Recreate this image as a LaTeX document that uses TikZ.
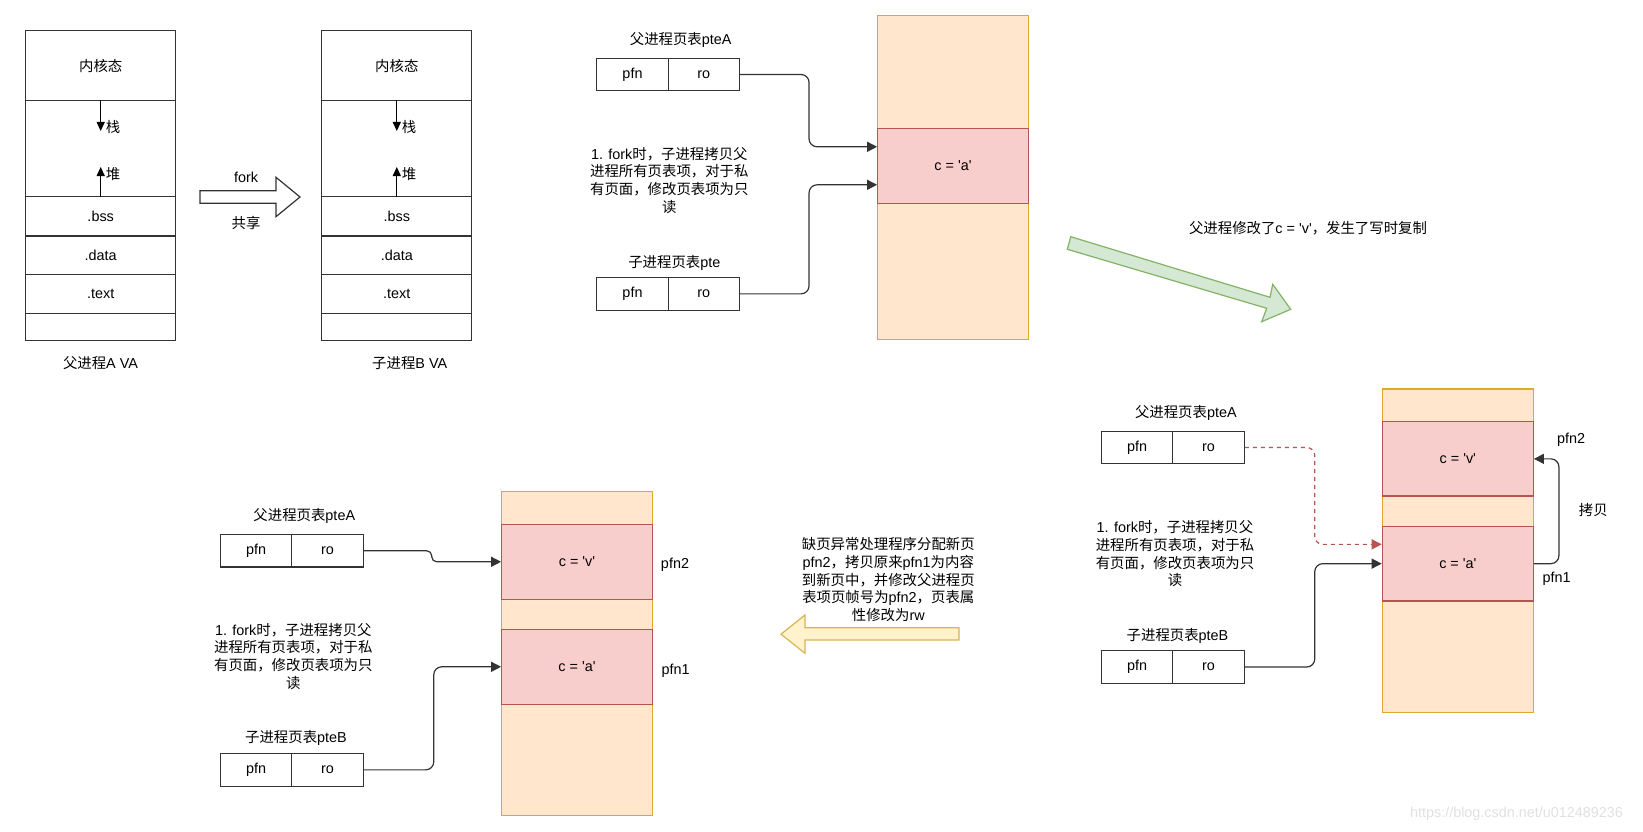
\documentclass[tikz,border=0pt]{standalone}
\usepackage{fontspec}
\setmainfont{Liberation Sans}[Ligatures=TeXOff]
\newfontfamily\cjk{Noto Sans CJK SC}
\newcommand\zhs[1]{{\cjk #1}}
\usetikzlibrary{arrows.meta,calc}
\definecolor{memfill}{HTML}{FFE6CC}
\definecolor{memline}{HTML}{E0A82E}
\definecolor{redfill}{HTML}{F8CECC}
\definecolor{redline}{HTML}{B85450}
\definecolor{grfill}{HTML}{D5E8D4}
\definecolor{grline}{HTML}{82B366}
\definecolor{yfill}{HTML}{FFF2CC}
\definecolor{yline}{HTML}{D6B656}
\definecolor{ink}{HTML}{333333}
\tikzset{
  cell/.style={draw=ink, line width=1.2pt, inner sep=0pt, minimum width=150pt},
  ptecell/.style={draw=ink, line width=1.2pt, inner sep=0pt, minimum height=32.5pt, minimum width=71.3pt},
  mem/.style={fill=memfill, draw=memline, line width=1.2pt, inner sep=0pt, minimum width=150.6pt, minimum height=324pt},
  redc/.style={fill=redfill, draw=redline, line width=1.2pt, inner sep=0pt, minimum width=150.6pt, minimum height=75pt},
  lbl/.style={inner sep=0pt, align=center},
  conn/.style={draw=ink, line width=1.2pt, rounded corners=8pt, -{Triangle[length=10pt,width=10pt]}},
  sarrow/.style={draw=black, line width=1.2pt, -{Triangle[length=9pt,width=8pt]}},
  dconn/.style={draw=redline, line width=1.2pt, rounded corners=8pt, dash pattern=on 4pt off 4pt, -{Triangle[length=10pt,width=10pt]}},
}
\begin{document}
\begin{tikzpicture}[x=1pt, y=-1pt, font=\fontsize{14.4}{17.6}\selectfont]
\useasboundingbox (0,0) rectangle (1643,832);

% ---------- Parent VA ----------
\node[cell, minimum height=70pt] (ak) at (100.7,65.7) {\zhs{内核态}};
\node[cell, minimum height=96pt] (as) at (100.7,148.7) {};
\node[cell, minimum height=39.3pt] (abss) at (100.7,216.35) {.bss};
\node[cell, minimum height=38.7pt] (adata) at (100.7,255.35) {.data};
\node[cell, minimum height=38.6pt] (atext) at (100.7,294) {.text};
\node[cell, minimum height=27.4pt] (aempty) at (100.7,327) {};
\coordinate (astkend) at (100.7,131);
\coordinate (aheapend) at (100.7,167);
\draw[sarrow] (as.north) -- (astkend);
\draw[sarrow] (as.south) -- (aheapend);
\node[lbl] (astk) at (113,127.5) {\zhs{栈}};
\node[lbl] (aheap) at (113,174) {\zhs{堆}};
\node[lbl] (alabel) at (100.5,363) {\zhs{父进程}A VA};

% ---------- Child VA ----------
\node[cell, minimum height=70pt] (bk) at (396.8,65.7) {\zhs{内核态}};
\node[cell, minimum height=96pt] (bs) at (396.8,148.7) {};
\node[cell, minimum height=39.3pt] (bbss) at (396.8,216.35) {.bss};
\node[cell, minimum height=38.7pt] (bdata) at (396.8,255.35) {.data};
\node[cell, minimum height=38.6pt] (btext) at (396.8,294) {.text};
\node[cell, minimum height=27.4pt] (bempty) at (396.8,327) {};
\coordinate (bstkend) at (396.8,131);
\coordinate (bheapend) at (396.8,167);
\draw[sarrow] (bs.north) -- (bstkend);
\draw[sarrow] (bs.south) -- (bheapend);
\node[lbl] (bstk) at (409,127.5) {\zhs{栈}};
\node[lbl] (bheap) at (409,174) {\zhs{堆}};
\node[lbl] (blabel) at (409.7,363) {\zhs{子进程}B VA};

% fork block arrow
\draw[draw=ink, line width=1.2pt, fill=white]
  (200,190.7) -- (276,190.7) -- (276,177.3) -- (300,197) -- (276,216.7) -- (276,203.3) -- (200,203.3) -- cycle;
\node[lbl] (forklbl) at (246,177.7) {fork};
\node[lbl] (sharelbl) at (246,223) {\zhs{共享}};

% ---------- Stage 1 ----------
\node[mem] (memA) at (953,177.85) {};
\node[redc] (redA) at (953,165.8) {c = 'a'};
\node[lbl] (t1lbl) at (680.7,40) {\zhs{父进程页表}pteA};
\node[ptecell] (pfn1) at (632.5,74.5) {pfn};
\node[ptecell] (ro1) at (703.8,74.5) {ro};
\node[lbl] (t2lbl) at (674.3,263.3) {\zhs{子进程页表}pte};
\node[ptecell] (pfn2) at (632.5,293.85) {pfn};
\node[ptecell] (ro2) at (703.8,293.85) {ro};
\node[lbl] (note1) at (669.3,180.3) {1. fork\zhs{时，子进程拷贝父}\\\zhs{进程所有页表项，对于私}\\\zhs{有页面，修改页表项为只}\\\zhs{读}};
\draw[conn] (ro1.east) -- ++(69,0) |- ([yshift=19pt]redA.west);
\draw[conn] (ro2.east) -- ++(69,0) |- ([yshift=-19pt]redA.west);

% green arrow
\draw[draw=grline, line width=1.2pt, fill=grfill]
  (1070.7,236.7) -- (1270,297.3) -- (1272.7,284.3) -- (1290.7,309.3) -- (1261.7,321.7) -- (1266.7,308.3) -- (1067.3,249.3) -- cycle;
\node[lbl] (glbl) at (1308,228.3) {\zhs{父进程修改了}c = 'v'\zhs{，发生了写时复制}};

% ---------- Stage 2 (right) ----------
\node[mem, minimum width=151pt, minimum height=323.3pt] (memR) at (1457.8,550.65) {};
\node[redc, minimum width=151pt, minimum height=74.3pt] (r2) at (1457.8,458.85) {c = 'v'};
\node[redc, minimum width=151pt, minimum height=74.7pt] (r1) at (1457.8,563.65) {c = 'a'};
\node[lbl] (t3lbl) at (1185.8,413.3) {\zhs{父进程页表}pteA};
\node[ptecell] (pfn3) at (1137.2,447.5) {pfn};
\node[ptecell] (ro3) at (1208.5,447.5) {ro};
\node[lbl] (t4lbl) at (1177.5,635.7) {\zhs{子进程页表}pteB};
\node[ptecell] (pfn4) at (1137.2,667) {pfn};
\node[ptecell] (ro4) at (1208.5,667) {ro};
\node[lbl] (note2) at (1175,553.8) {1. fork\zhs{时，子进程拷贝父}\\\zhs{进程所有页表项，对于私}\\\zhs{有页面，修改页表项为只}\\\zhs{读}};
\node[lbl] (rpfn2) at (1571,439.3) {pfn2};
\node[lbl] (rpfn1) at (1556.7,579) {pfn1};
\node[lbl] (copylbl) at (1593.3,510) {\zhs{拷贝}};
\draw[dconn] (ro3.east) -- ++(70,0) |- ([yshift=19.3pt]r1.west);
\draw[conn] (ro4.east) -- ++(70,0) |- (r1.west);
\draw[conn] (r1.east) -- ++(25,0) |- (r2.east);

% yellow arrow
\draw[draw=yline, line width=1.2pt, fill=yfill]
  (959,627.7) -- (805,627.7) -- (805,615) -- (781,634.2) -- (805,653.3) -- (805,640) -- (959,640) -- cycle;
\node[lbl] (ylbl) at (888.3,579.7) {\zhs{缺页异常处理程序分配新页}\\pfn2\zhs{，拷贝原来}pfn1\zhs{为内容}\\\zhs{到新页中，并修改父进程页}\\\zhs{表项页帧号为}pfn2\zhs{，页表属}\\\zhs{性修改为}rw};

% ---------- Stage 3 (bottom) ----------
\node[mem] (memB) at (577,653.7) {};
\node[redc] (b2) at (577,561.8) {c = 'v'};
\node[redc] (b1) at (577,666.8) {c = 'a'};
\node[lbl] (t5lbl) at (304.3,515.7) {\zhs{父进程页表}pteA};
\node[ptecell] (pfn5) at (256.2,550.8) {pfn};
\node[ptecell] (ro5) at (327.5,550.8) {ro};
\node[lbl] (t6lbl) at (296,738.3) {\zhs{子进程页表}pteB};
\node[ptecell] (pfn6) at (256.2,769.85) {pfn};
\node[ptecell] (ro6) at (327.5,769.85) {ro};
\node[lbl] (note3) at (293.3,656.2) {1. fork\zhs{时，子进程拷贝父}\\\zhs{进程所有页表项，对于私}\\\zhs{有页面，修改页表项为只}\\\zhs{读}};
\node[lbl] (bpfn2) at (675,565) {pfn2};
\node[lbl] (bpfn1) at (675.7,670.7) {pfn1};
\draw[conn, rounded corners=5pt] (ro5.east) -- ++(68,0) |- (b2.west);
\draw[conn] (ro6.east) -- ++(70,0) |- (b1.west);

% watermark
\node[lbl, text=black!12] (wm) at (1516.5,813.3) {https://blog.csdn.net/u012489236};
\end{tikzpicture}
\end{document}
